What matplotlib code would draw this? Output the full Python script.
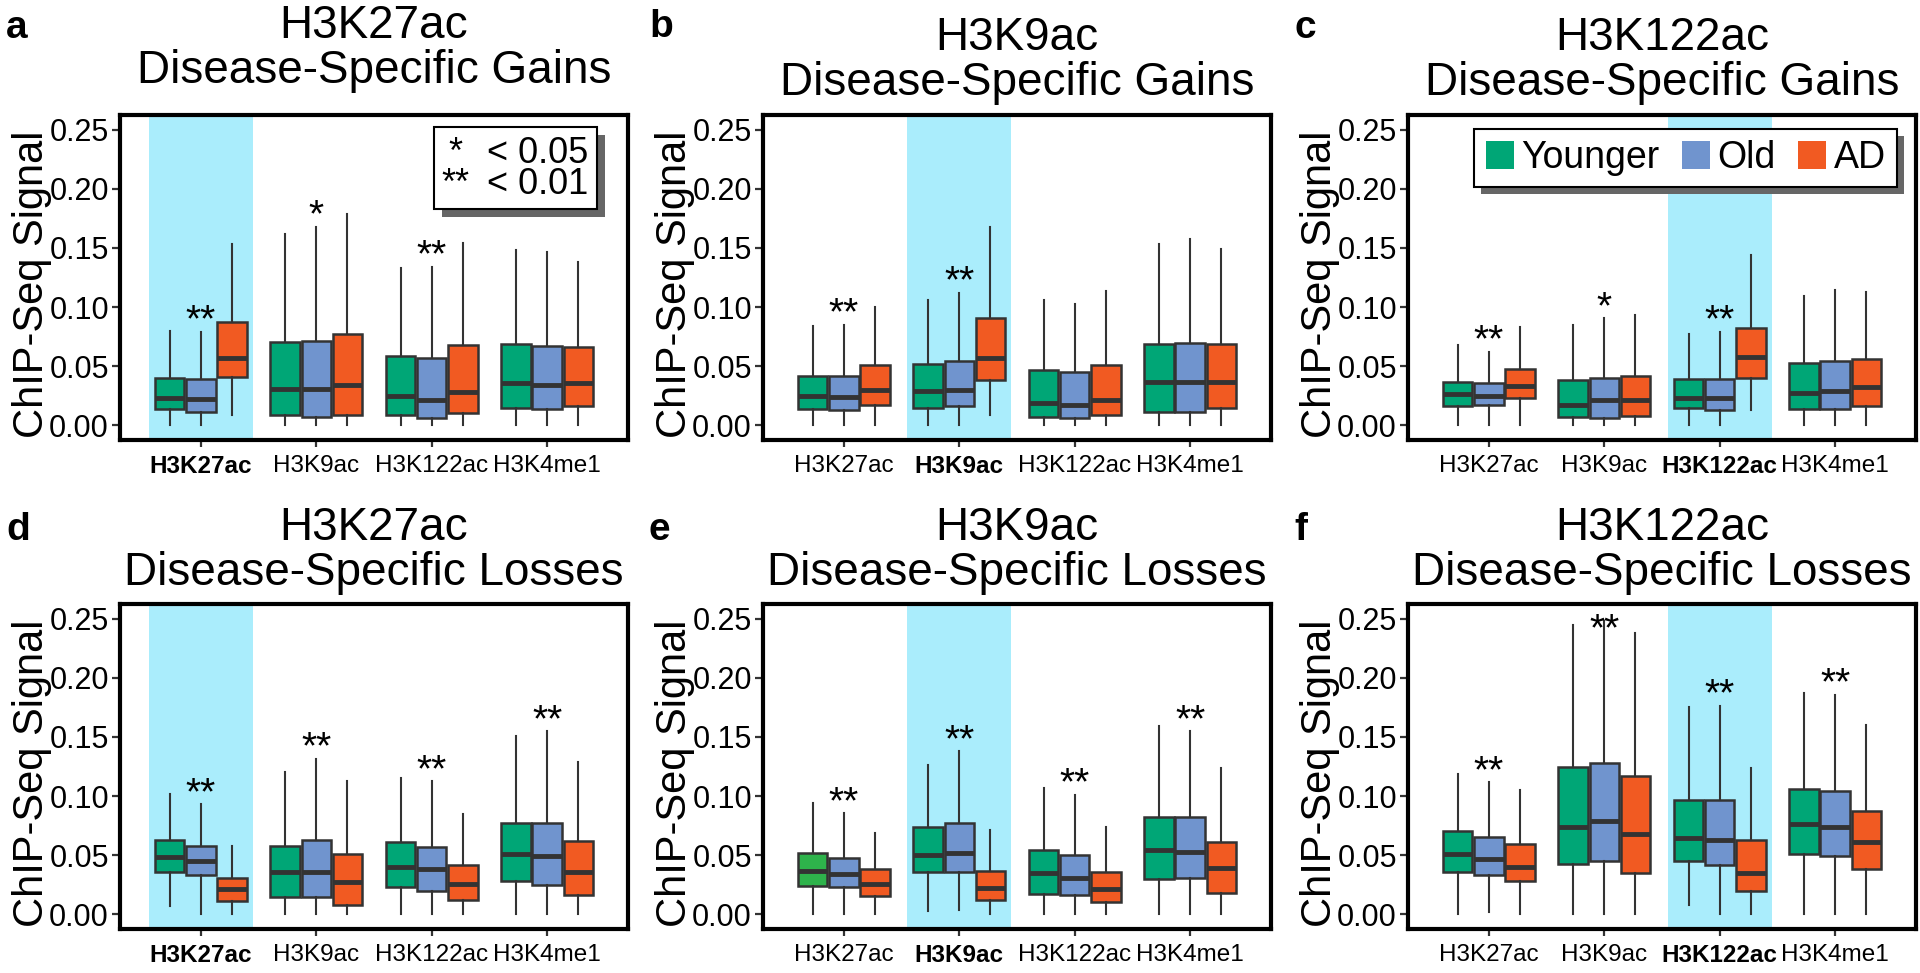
import matplotlib
matplotlib.use("Agg")
import matplotlib.pyplot as plt
from matplotlib.patches import Patch, Rectangle

plt.rcParams['font.family'] = ['Liberation Sans', 'DejaVu Sans']

marks = ['H3K27ac', 'H3K9ac', 'H3K122ac', 'H3K4me1']
groups = ['Younger', 'Old', 'AD']
colors = ['#00A676', '#7094CE', '#F15A22']
shade_color = '#AAEDFC'
edge_color = '#333333'

# box stats per mark, per group (Younger, Old, AD): (whislo, q1, med, q3, whishi)
gains_h3k27ac = [
    [(0.000, 0.014, 0.023, 0.040, 0.080), (0.000, 0.011, 0.022, 0.039, 0.079), (0.009, 0.041, 0.057, 0.087, 0.153)],
    [(0.000, 0.0085, 0.031, 0.0705, 0.162), (0.000, 0.007, 0.031, 0.0716, 0.168), (0.000, 0.009, 0.034, 0.0776, 0.179)],
    [(0.000, 0.009, 0.025, 0.059, 0.133), (0.000, 0.006, 0.021, 0.057, 0.134), (0.000, 0.0105, 0.028, 0.068, 0.154)],
    [(0.000, 0.015, 0.0355, 0.069, 0.148), (0.000, 0.0136, 0.034, 0.067, 0.147), (0.000, 0.0165, 0.036, 0.066, 0.138)],
]
gains_h3k9ac = [
    [(0.000, 0.0136, 0.025, 0.042, 0.084), (0.000, 0.013, 0.024, 0.042, 0.085), (0.000, 0.0168, 0.030, 0.051, 0.100)],
    [(0.000, 0.015, 0.029, 0.052, 0.106), (0.000, 0.016, 0.030, 0.054, 0.112), (0.0085, 0.0386, 0.057, 0.091, 0.168)],
    [(0.000, 0.007, 0.019, 0.0466, 0.106), (0.000, 0.0057, 0.017, 0.045, 0.103), (0.000, 0.0085, 0.021, 0.051, 0.114)],
    [(0.000, 0.011, 0.0366, 0.069, 0.153), (0.000, 0.011, 0.0366, 0.070, 0.158), (0.000, 0.015, 0.037, 0.069, 0.149)],
]
gains_h3k122ac = [
    [(0.000, 0.0165, 0.0265, 0.037, 0.068), (0.000, 0.017, 0.025, 0.036, 0.062), (0.000, 0.023, 0.0336, 0.048, 0.083)],
    [(0.000, 0.0068, 0.0174, 0.038, 0.085), (0.000, 0.006, 0.021, 0.040, 0.0905), (0.000, 0.0077, 0.021, 0.042, 0.093)],
    [(0.000, 0.0142, 0.023, 0.039, 0.077), (0.000, 0.013, 0.023, 0.039, 0.079), (0.013, 0.040, 0.058, 0.0826, 0.144)],
    [(0.000, 0.0134, 0.027, 0.053, 0.109), (0.000, 0.014, 0.029, 0.054, 0.1145), (0.000, 0.0165, 0.032, 0.056, 0.113)],
]
losses_h3k27ac = [
    [(0.007, 0.036, 0.0486, 0.063, 0.102), (0.000, 0.0335, 0.045, 0.058, 0.093), (0.000, 0.0116, 0.021, 0.031, 0.058)],
    [(0.000, 0.015, 0.036, 0.058, 0.120), (0.000, 0.015, 0.036, 0.0625, 0.1315), (0.000, 0.008, 0.027, 0.0506, 0.113)],
    [(0.000, 0.023, 0.040, 0.061, 0.115), (0.000, 0.0196, 0.038, 0.057, 0.1125), (0.000, 0.012, 0.026, 0.042, 0.085)],
    [(0.000, 0.028, 0.051, 0.077, 0.151), (0.000, 0.025, 0.049, 0.077, 0.155), (0.000, 0.0165, 0.036, 0.062, 0.129)],
]
losses_h3k9ac = [
    [(0.000, 0.024, 0.037, 0.0514, 0.094), (0.000, 0.0227, 0.034, 0.048, 0.0855), (0.000, 0.0156, 0.026, 0.038, 0.069)],
    [(0.003, 0.0355, 0.0497, 0.0736, 0.126), (0.004, 0.036, 0.052, 0.0776, 0.138), (0.000, 0.012, 0.022, 0.0366, 0.071)],
    [(0.000, 0.017, 0.035, 0.054, 0.107), (0.000, 0.016, 0.031, 0.050, 0.101), (0.000, 0.010, 0.021, 0.0358, 0.074)],
    [(0.000, 0.030, 0.0545, 0.082, 0.159), (0.000, 0.031, 0.053, 0.082, 0.155), (0.000, 0.018, 0.039, 0.061, 0.124)],
]
losses_h3k122ac = [
    [(0.000, 0.036, 0.051, 0.0705, 0.119), (0.002, 0.0335, 0.047, 0.065, 0.1117), (0.000, 0.0284, 0.040, 0.0597, 0.105)],
    [(0.000, 0.0426, 0.074, 0.125, 0.245), (0.000, 0.045, 0.0787, 0.128, 0.248), (0.000, 0.035, 0.0676, 0.117, 0.238)],
    [(0.008, 0.045, 0.0645, 0.097, 0.175), (0.000, 0.042, 0.063, 0.0966, 0.1765), (0.000, 0.020, 0.035, 0.063, 0.124)],
    [(0.000, 0.051, 0.076, 0.1057, 0.187), (0.000, 0.049, 0.074, 0.104, 0.1855), (0.000, 0.038, 0.061, 0.0875, 0.1605)],
]

stars_a = ['**', '*', '**', '']
stars_b = ['**', '**', '', '']
stars_c = ['**', '*', '**', '']
stars_d = ['**', '**', '**', '**']
stars_e = ['**', '**', '**', '**']
stars_f = ['**', '**', '**', '**']

panels = [
    ('a', 'H3K27ac', 'Disease-Specific Gains', gains_h3k27ac, stars_a),
    ('b', 'H3K9ac', 'Disease-Specific Gains', gains_h3k9ac, stars_b),
    ('c', 'H3K122ac', 'Disease-Specific Gains', gains_h3k122ac, stars_c),
    ('d', 'H3K27ac', 'Disease-Specific Losses', losses_h3k27ac, stars_d),
    ('e', 'H3K9ac', 'Disease-Specific Losses', losses_h3k9ac, stars_e),
    ('f', 'H3K122ac', 'Disease-Specific Losses', losses_h3k122ac, stars_f),
]
# the first Younger box in panel e is drawn in a lighter green
color_override = {('e', 0, 0): '#2EB34B'}

# layout (pixels)
W, H = 1920, 973
col_left = [120, 763, 1408]
row_top = [115, 604]
ax_w, ax_h = 508, 325
title_base = [38, 50, 50, 540, 540, 540]
letter_base = [38, 37, 38, 540, 540, 540]
offsets = [-0.27, 0.0, 0.27]

fig = plt.figure(figsize=(W / 100, H / 100), dpi=100)

for i, (letter, focus, subtitle, data, stars) in enumerate(panels):
    r, c = divmod(i, 3)
    left, top = col_left[c], row_top[r]
    ax = fig.add_axes([left / W, 1 - (top + ax_h) / H, ax_w / W, ax_h / H])
    hl = marks.index(focus)
    ax.axvspan(hl + 1 - 0.45, hl + 1 + 0.45, color=shade_color, lw=0, zorder=0)

    for g in range(3):
        stats = [dict(whislo=d[g][0], q1=d[g][1], med=d[g][2], q3=d[g][3], whishi=d[g][4])
                 for d in data]
        pos = [m + 1 + offsets[g] for m in range(len(marks))]
        bp = ax.bxp(stats, positions=pos, widths=0.255, patch_artist=True,
                    showfliers=False, showcaps=False, manage_ticks=False, zorder=3,
                    boxprops=dict(edgecolor=edge_color, linewidth=1.8),
                    medianprops=dict(color=edge_color, linewidth=3.5, solid_capstyle='butt'),
                    whiskerprops=dict(color=edge_color, linewidth=1.5))
        for m, patch in enumerate(bp['boxes']):
            patch.set_facecolor(color_override.get((letter, m, g), colors[g]))

    for m, s in enumerate(stars):
        if s:
            y = min(data[m][1][4] + 0.019, 0.251)
            ax.annotate(s, (m + 1, y), xytext=(0, -16), textcoords='offset points',
                        ha='center', va='baseline', fontsize=28, annotation_clip=False, zorder=4)

    ax.set_xlim(0.3, 4.7)
    ax.set_ylim(-0.0125, 0.2625)
    yt = [0.0, 0.05, 0.10, 0.15, 0.20, 0.25]
    ax.set_yticks(yt)
    ax.set_yticklabels([f'{v:.2f}' for v in yt])
    ax.set_xticks(range(1, len(marks) + 1))
    ax.set_xticklabels(marks)
    ax.get_xticklabels()[hl].set_fontweight('bold')
    ax.tick_params(axis='y', length=6, width=1.6, color=edge_color, labelsize=22, pad=2)
    ax.tick_params(axis='x', length=5, width=1.6, color=edge_color, labelsize=17.5, pad=6)
    for sp in ax.spines.values():
        sp.set_linewidth(3)
        sp.set_color('black')

    cx = (left + ax_w / 2) / W
    fig.text(cx, 1 - title_base[i] / H, focus, ha='center', va='baseline', fontsize=33)
    fig.text(cx, 1 - (title_base[i] + 45) / H, subtitle, ha='center', va='baseline', fontsize=33)
    fig.text((left - 88) / W, 1 - (top + 169) / H, 'ChIP-Seq Signal', rotation=90,
             ha='center', va='center', fontsize=30)
    fig.text((left - 114) / W, 1 - letter_base[i] / H, letter, ha='left', va='baseline',
             fontsize=28, fontweight='bold')

    if letter == 'a':
        ax.add_patch(Rectangle((0.634, 0.686), 0.321, 0.252, transform=ax.transAxes,
                               facecolor='#666666', edgecolor='none', zorder=5))
        ax.add_patch(Rectangle((0.618, 0.711), 0.321, 0.252, transform=ax.transAxes,
                               facecolor='white', edgecolor='black', linewidth=1.5, zorder=6))
        ax.text(0.660, 0.834, '*\n**', transform=ax.transAxes, ha='center', va='center',
                multialignment='center', linespacing=0.88, fontsize=26, zorder=7)
        ax.text(0.722, 0.834, '< 0.05\n< 0.01', transform=ax.transAxes, ha='left', va='center',
                linespacing=0.88, fontsize=26, zorder=7)

    if letter == 'c':
        handles = [Patch(facecolor=col, edgecolor='none') for col in colors]
        leg = ax.legend(handles, groups, loc='upper right', bbox_to_anchor=(0.963, 0.957),
                        ncol=3, fontsize=27, frameon=True, fancybox=False, edgecolor='black',
                        framealpha=1, handlelength=0.75, handleheight=0.75, handletextpad=0.2,
                        columnspacing=0.6, borderpad=0.3, borderaxespad=0,
                        shadow={'ox': 5, 'oy': -5, 'facecolor': '#666666',
                                'edgecolor': 'none', 'alpha': 1})
        leg.get_frame().set_linewidth(1.5)
        leg.set_zorder(6)

fig.savefig('out.png', dpi=100)
